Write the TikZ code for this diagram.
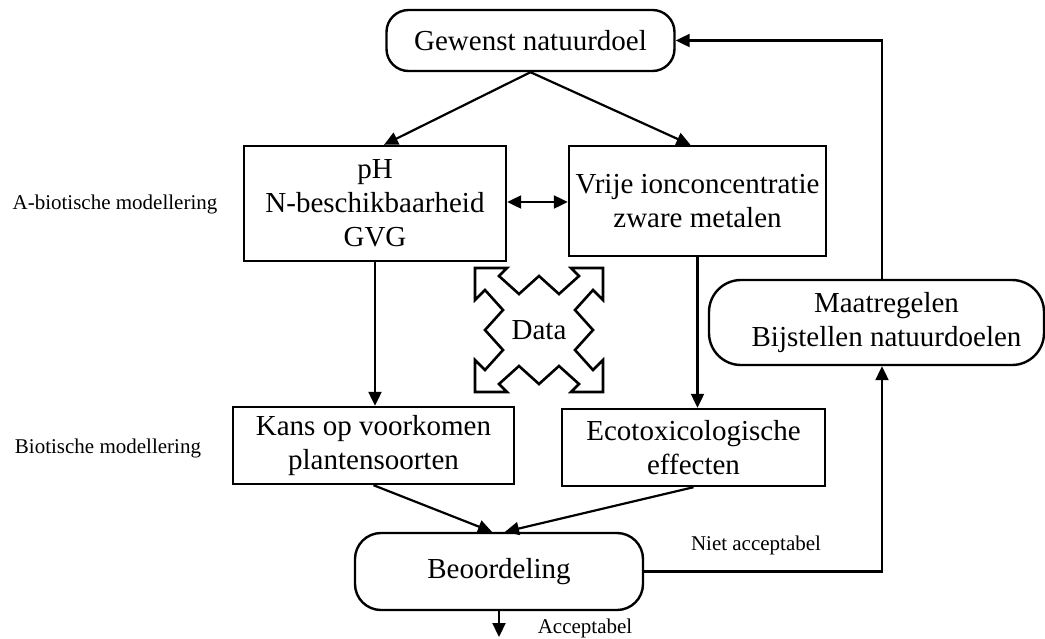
\documentclass[tikz,border=0pt]{standalone}
\usepackage{fontspec}
\setmainfont{Liberation Serif}
\usetikzlibrary{arrows.meta}
\begin{document}
\begin{tikzpicture}[x=1pt,y=-1pt,
  every node/.style={font=\fontsize{29}{34}\selectfont, align=center, inner sep=0pt},
  box/.style={draw, line width=2.4pt, minimum width=#1},
  rbox/.style={draw, line width=2.4pt, rounded corners=22pt},
  side/.style={font=\fontsize{21}{25}\selectfont},
  flow/.style={line width=2.2pt, -{Triangle[length=14pt,width=13pt]}},
  both/.style={line width=2.2pt, {Triangle[length=14pt,width=13pt]}-{Triangle[length=14pt,width=13pt]}}]
\useasboundingbox (0,0) rectangle (1045,638);

% process boxes
\node[rbox, minimum width=288pt, minimum height=61pt] (goal) at (530.5,40.5) {Gewenst natuurdoel};
\node[box=262pt, minimum height=115pt] (ph) at (375,203.5) {pH\\N-beschikbaarheid\\GVG};
\node[box=257pt, minimum height=110pt] (vrije) at (697.5,201) {Vrije ionconcentratie\\zware metalen};
\node[box=281pt, minimum height=77pt] (kans) at (373.5,445.5) {Kans op voorkomen\\plantensoorten};
\node[box=263pt, minimum height=77pt] (eco) at (693.5,447.5) {Ecotoxicologische\\effecten};
\node[rbox, rounded corners=26pt, minimum width=288pt, minimum height=77pt] (beo) at (499,571.5) {Beoordeling};
\node[rbox, rounded corners=32pt, minimum width=335pt, minimum height=85pt] (maat) at (876.5,322.5) {\hspace*{20pt}Maatregelen\\\hspace*{20pt}Bijstellen natuurdoelen};

% side labels
\node[side] (abio) at (115,204) {A-biotische modellering};
\node[side] (bio) at (108,448) {Biotische modellering};
\node[side] (niet) at (756,545) {Niet acceptabel};
\node[side] (acc) at (585,628) {Acceptabel};

% data exchange symbol: four-way arrow with zigzag edges
\node (data) at (539,330) {Data};
\begin{scope}[shift={(539,330)}]
\draw[line width=2.6pt, line join=miter]
  (-64,-62) -- (-32,-62) -- (-40,-54) -- (-20,-36) -- (0,-54) -- (20,-36) -- (40,-54) -- (32,-62)
  -- (64,-62) -- (64,-30) -- (54,-40) -- (36,-20) -- (54,0) -- (36,20) -- (54,40) -- (64,30)
  -- (64,62) -- (32,62) -- (40,54) -- (20,36) -- (0,54) -- (-20,36) -- (-40,54) -- (-32,62)
  -- (-64,62) -- (-64,30) -- (-54,40) -- (-36,20) -- (-54,0) -- (-36,-20) -- (-54,-40) -- (-64,-30)
  -- cycle;
\end{scope}

% connectors
\coordinate (fb) at (882,0);
\coordinate (out) at (499,637);
\draw[flow] (goal.south) -- ([xshift=9pt]ph.north);
\draw[flow] (goal.south) -- ([xshift=-7pt]vrije.north);
\draw[both] (ph.east |- 0,202) -- (vrije.west |- 0,202);
\draw[flow] (ph.south) -- (ph.south |- kans.north);
\draw[flow] (vrije.south) -- (vrije.south |- eco.north);
\draw[flow] (kans.south) -- ([xshift=-7pt]beo.north);
\draw[flow] (eco.south) -- ([xshift=6pt]beo.north);
\draw[flow] (beo.south) -- (out);
\draw[flow] (beo.east) -| (fb |- maat.south);
\draw[flow] (fb |- maat.north) |- (goal.east);
\end{tikzpicture}
\end{document}
